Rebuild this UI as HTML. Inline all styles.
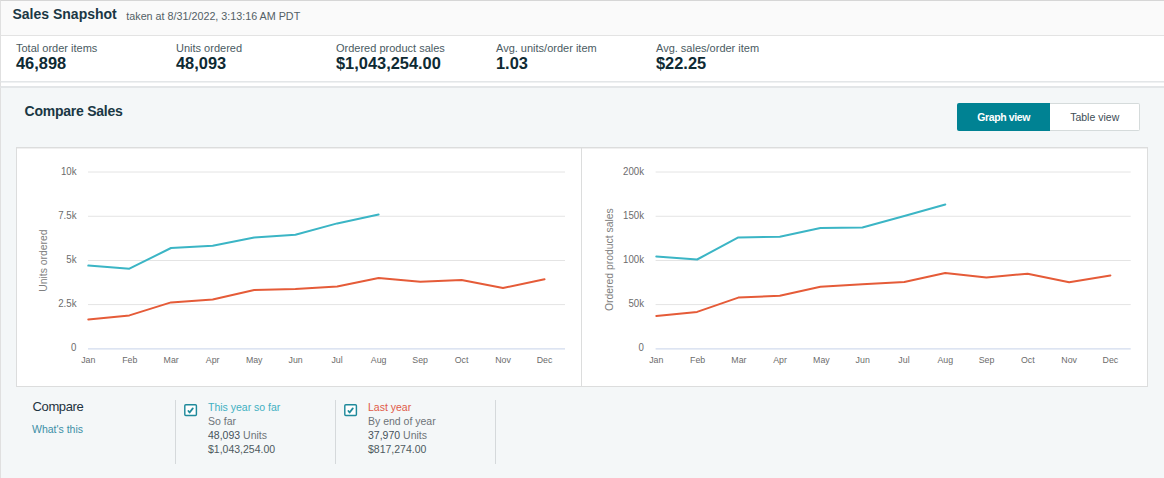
<!DOCTYPE html>
<html><head><meta charset="utf-8"><style>
*{box-sizing:border-box;margin:0;padding:0}
html,body{width:1164px;height:478px;overflow:hidden;background:#f4f7f8;font-family:"Liberation Sans",sans-serif}
.a{position:absolute;white-space:nowrap;line-height:1}
#hdr{position:absolute;left:0;top:0;width:1164px;height:36px;background:#fafafa;border-top:1px solid #d6d6d6;border-left:1px solid #e0e0e0;border-bottom:1px solid #e3e3e3}
#met{position:absolute;left:0;top:36px;width:1164px;height:46px;background:#fff;border-left:1px solid #e0e0e0;border-bottom:1px solid #e3e6e8}
#gap{position:absolute;left:0;top:82px;width:1164px;height:6px;background:#fff;border-left:1px solid #e0e0e0;border-bottom:2px solid #e3e6e8;box-shadow:inset 0 1px 0 #eff1f2}
#cmp{position:absolute;left:0;top:88px;width:1164px;height:390px;background:#f4f7f8;border-left:1px solid #e0e0e0}
.t1{font-size:14px;font-weight:700;color:#1a3744}
.t2{font-size:11px;color:#535f66}
.lab{font-size:11px;color:#4a5b62}
.val{font-size:16.4px;font-weight:700;color:#0e2a33}
#panel{position:absolute;left:16px;top:147px;width:1132px;height:240px;background:#fff;border:1px solid #dcdddd;box-shadow:inset 0 1px 0 #f0f0f0}
#div{position:absolute;left:581px;top:147px;width:1px;height:240px;background:#dcdddd}
#btns{position:absolute;left:957px;top:103px;width:183px;height:28px}
#gb{position:absolute;left:0;top:0;width:93px;height:28px;background:#008293;border-radius:2px 0 0 2px}
#tb{position:absolute;left:93px;top:0;width:90px;height:28px;background:#fff;border:1px solid #d5dbdb;border-left:none;border-radius:0 2px 2px 0}
svg#ch{position:absolute;left:0;top:0}
.yl{font-size:10.2px;fill:#6c6c6c} .xl{font-size:9.8px;fill:#6c6c6c}
.at{font-size:10.4px;fill:#808080}
.sep{position:absolute;top:400px;width:1px;height:64px;background:#d5d9db}
.cb{position:absolute;top:404px;width:13px;height:12px;border:1.6px solid #1f8a9b;background:#fff;border-radius:1px}
.ct{font-size:10.5px;color:#60666b}
</style></head><body>
<div id="hdr"></div><div id="met"></div><div id="gap"></div><div id="cmp"></div>
<div class="a t1" style="left:12.5px;top:7px;font-size:14px">Sales Snapshot</div>
<div class="a t2" style="left:126.3px;top:10.6px;font-size:10.75px">taken at 8/31/2022, 3:13:16 AM PDT</div>
<div class="a lab" style="left:16px;top:43px">Total order items</div>
<div class="a val" style="left:16px;top:55px">46,898</div>
<div class="a lab" style="left:176px;top:43px">Units ordered</div>
<div class="a val" style="left:176px;top:55px">48,093</div>
<div class="a lab" style="left:336px;top:43px">Ordered product sales</div>
<div class="a val" style="left:336px;top:55px">$1,043,254.00</div>
<div class="a lab" style="left:496px;top:43px">Avg. units/order item</div>
<div class="a val" style="left:496px;top:55px">1.03</div>
<div class="a lab" style="left:656px;top:43px">Avg. sales/order item</div>
<div class="a val" style="left:656px;top:55px">$22.25</div>
<div class="a t1" style="left:24.6px;top:104px;font-size:14px;letter-spacing:-0.25px">Compare Sales</div>
<div id="btns"><div id="gb"></div><div id="tb"></div></div>
<div class="a" style="left:977.3px;top:111.5px;font-size:10.5px;letter-spacing:-0.38px;font-weight:700;color:#fff">Graph view</div>
<div class="a" style="left:1070.2px;top:111.6px;font-size:10.5px;color:#3d4d55">Table view</div>
<div id="panel"></div><div id="div"></div>
<svg id="ch" width="1164" height="478" style="font-family:'Liberation Sans',sans-serif">
<line x1="88" y1="172.0" x2="565" y2="172.0" stroke="#e4e4e4" stroke-width="1"/><line x1="88" y1="216.25" x2="565" y2="216.25" stroke="#e4e4e4" stroke-width="1"/><line x1="88" y1="260.5" x2="565" y2="260.5" stroke="#e4e4e4" stroke-width="1"/><line x1="88" y1="304.6" x2="565" y2="304.6" stroke="#e4e4e4" stroke-width="1"/><line x1="88" y1="348.9" x2="565" y2="348.9" stroke="#d2dbee" stroke-width="1.1"/><text transform="translate(76.5 174.6) scale(0.95 1)" text-anchor="end" class="yl">10k</text><text transform="translate(76.5 218.8) scale(0.95 1)" text-anchor="end" class="yl">7.5k</text><text transform="translate(76.5 262.9) scale(0.95 1)" text-anchor="end" class="yl">5k</text><text transform="translate(76.5 306.8) scale(0.95 1)" text-anchor="end" class="yl">2.5k</text><text transform="translate(76.5 350.5) scale(0.95 1)" text-anchor="end" class="yl">0</text><text transform="translate(88.3 363.4) scale(0.9 1)" text-anchor="middle" class="xl">Jan</text><text transform="translate(129.8 363.4) scale(0.9 1)" text-anchor="middle" class="xl">Feb</text><text transform="translate(171.2 363.4) scale(0.9 1)" text-anchor="middle" class="xl">Mar</text><text transform="translate(212.7 363.4) scale(0.9 1)" text-anchor="middle" class="xl">Apr</text><text transform="translate(254.2 363.4) scale(0.9 1)" text-anchor="middle" class="xl">May</text><text transform="translate(295.6 363.4) scale(0.9 1)" text-anchor="middle" class="xl">Jun</text><text transform="translate(337.1 363.4) scale(0.9 1)" text-anchor="middle" class="xl">Jul</text><text transform="translate(378.6 363.4) scale(0.9 1)" text-anchor="middle" class="xl">Aug</text><text transform="translate(420.1 363.4) scale(0.9 1)" text-anchor="middle" class="xl">Sep</text><text transform="translate(461.5 363.4) scale(0.9 1)" text-anchor="middle" class="xl">Oct</text><text transform="translate(503.0 363.4) scale(0.9 1)" text-anchor="middle" class="xl">Nov</text><text transform="translate(544.5 363.4) scale(0.9 1)" text-anchor="middle" class="xl">Dec</text><polyline points="88.3,319.4 129.4,315.4 171.0,302.4 212.7,299.5 254.2,290.1 295.4,288.9 337.2,286.4 378.6,278.0 420.3,281.7 461.6,280.0 503.0,288.0 544.5,279.3" fill="none" stroke="#e55b38" stroke-width="2" stroke-linejoin="round" stroke-linecap="round"/><polyline points="88.3,265.6 129.4,268.7 171.0,248.0 212.7,245.7 254.2,237.5 295.4,234.8 337.2,223.4 378.6,214.6" fill="none" stroke="#3bb5c5" stroke-width="2" stroke-linejoin="round" stroke-linecap="round"/><text x="46.7" y="260.6" transform="rotate(-90 46.7 260.6)" text-anchor="middle" class="at">Units ordered</text><line x1="655.6" y1="172.0" x2="1130.7" y2="172.0" stroke="#e4e4e4" stroke-width="1"/><line x1="655.6" y1="216.25" x2="1130.7" y2="216.25" stroke="#e4e4e4" stroke-width="1"/><line x1="655.6" y1="260.5" x2="1130.7" y2="260.5" stroke="#e4e4e4" stroke-width="1"/><line x1="655.6" y1="304.6" x2="1130.7" y2="304.6" stroke="#e4e4e4" stroke-width="1"/><line x1="655.6" y1="348.9" x2="1130.7" y2="348.9" stroke="#d2dbee" stroke-width="1.1"/><text transform="translate(644 174.6) scale(0.95 1)" text-anchor="end" class="yl">200k</text><text transform="translate(644 218.8) scale(0.95 1)" text-anchor="end" class="yl">150k</text><text transform="translate(644 262.9) scale(0.95 1)" text-anchor="end" class="yl">100k</text><text transform="translate(644 306.8) scale(0.95 1)" text-anchor="end" class="yl">50k</text><text transform="translate(644 350.5) scale(0.95 1)" text-anchor="end" class="yl">0</text><text transform="translate(656.3 363.4) scale(0.9 1)" text-anchor="middle" class="xl">Jan</text><text transform="translate(697.6 363.4) scale(0.9 1)" text-anchor="middle" class="xl">Feb</text><text transform="translate(738.9 363.4) scale(0.9 1)" text-anchor="middle" class="xl">Mar</text><text transform="translate(780.1 363.4) scale(0.9 1)" text-anchor="middle" class="xl">Apr</text><text transform="translate(821.4 363.4) scale(0.9 1)" text-anchor="middle" class="xl">May</text><text transform="translate(862.7 363.4) scale(0.9 1)" text-anchor="middle" class="xl">Jun</text><text transform="translate(904.0 363.4) scale(0.9 1)" text-anchor="middle" class="xl">Jul</text><text transform="translate(945.3 363.4) scale(0.9 1)" text-anchor="middle" class="xl">Aug</text><text transform="translate(986.5 363.4) scale(0.9 1)" text-anchor="middle" class="xl">Sep</text><text transform="translate(1027.8 363.4) scale(0.9 1)" text-anchor="middle" class="xl">Oct</text><text transform="translate(1069.1 363.4) scale(0.9 1)" text-anchor="middle" class="xl">Nov</text><text transform="translate(1110.4 363.4) scale(0.9 1)" text-anchor="middle" class="xl">Dec</text><polyline points="656.3,316.0 697.1,311.9 738.3,297.6 779.8,295.8 820.4,286.7 862.4,284.3 904.3,282.0 945.2,273.0 986.4,277.5 1027.6,273.7 1069.2,282.3 1110.4,275.4" fill="none" stroke="#e55b38" stroke-width="2" stroke-linejoin="round" stroke-linecap="round"/><polyline points="656.3,256.4 697.1,259.5 738.3,237.4 779.8,236.8 820.4,228.1 862.4,227.5 904.3,216.0 945.3,204.5" fill="none" stroke="#3bb5c5" stroke-width="2" stroke-linejoin="round" stroke-linecap="round"/><text x="613" y="259.6" transform="rotate(-90 613 259.6)" text-anchor="middle" class="at">Ordered product sales</text>
</svg>
<div class="a" style="left:32.6px;top:400.2px;font-size:13px;letter-spacing:-0.4px;color:#1e3340">Compare</div>
<div class="a" style="left:32px;top:424px;font-size:10.5px;color:#3c8fa6">What's this</div>
<div class="sep" style="left:175px"></div><div class="sep" style="left:335px"></div><div class="sep" style="left:495px"></div>
<svg style="position:absolute;left:184px;top:400px" width="20" height="20"><rect x="0.8" y="4.8" width="11.6" height="10.7" rx="1" fill="#fff" stroke="#1f8a9b" stroke-width="1.45"/><polyline points="4.4,11 5.6,12.5 8.8,8.4" fill="none" stroke="#1f8a9b" stroke-width="1.8" stroke-linecap="round" stroke-linejoin="round"/></svg>
<svg style="position:absolute;left:344px;top:400px" width="20" height="20"><rect x="0.8" y="4.8" width="11.6" height="10.7" rx="1" fill="#fff" stroke="#1f8a9b" stroke-width="1.45"/><polyline points="4.4,11 5.6,12.5 8.8,8.4" fill="none" stroke="#1f8a9b" stroke-width="1.8" stroke-linecap="round" stroke-linejoin="round"/></svg>
<div class="a ct" style="left:208px;top:402px;color:#3fb0c2">This year so far</div>
<div class="a ct" style="left:208px;top:416px;color:#6e7479">So far</div>
<div class="a ct" style="left:208px;top:430px;color:#6e7479"><span style="color:#46525a">48,093</span> Units</div>
<div class="a ct" style="left:208px;top:444px;color:#4e5a60">$1,043,254.00</div>
<div class="a ct" style="left:368px;top:402px;color:#e05a48">Last year</div>
<div class="a ct" style="left:368px;top:416px;color:#6e7479">By end of year</div>
<div class="a ct" style="left:368px;top:430px;color:#6e7479"><span style="color:#46525a">37,970</span> Units</div>
<div class="a ct" style="left:368px;top:444px;color:#4e5a60">$817,274.00</div>
</body></html>
